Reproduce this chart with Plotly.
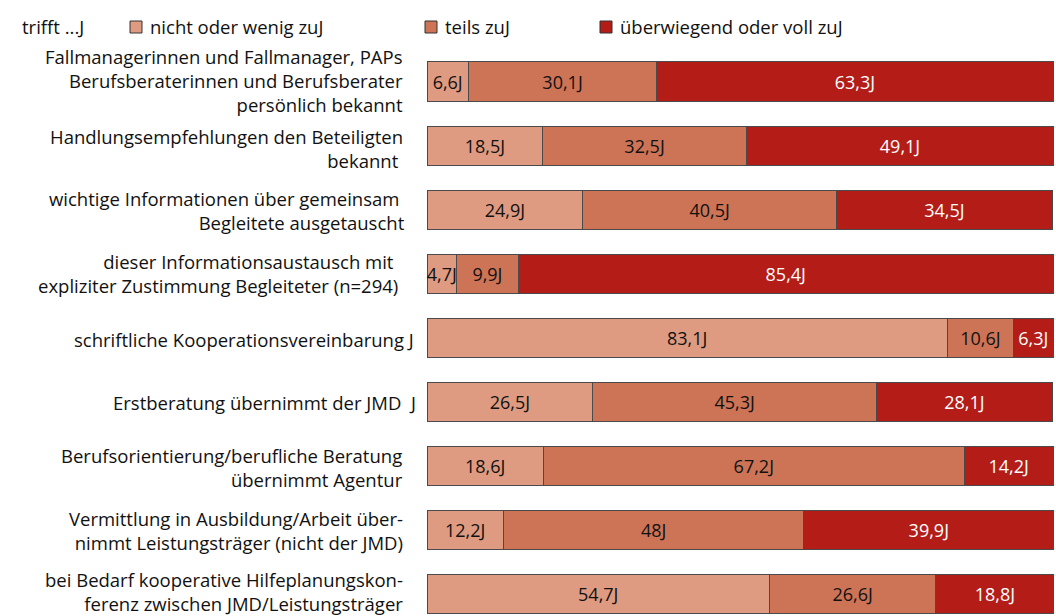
import plotly.graph_objects as go

categories = [
    "Fallmanagerinnen und Fallmanager, PAPs<br>Berufsberaterinnen und Berufsberater<br>persönlich bekannt",
    "Handlungsempfehlungen den Beteiligten<br>bekannt ",
    "wichtige Informationen über gemeinsam <br>Begleitete ausgetauscht",
    "dieser Informationsaustausch mit <br>expliziter Zustimmung Begleiteter (n=294)",
    "schriftliche Kooperationsvereinbarung J",
    "Erstberatung übernimmt der JMD  J",
    "Berufsorientierung/berufliche Beratung<br>übernimmt Agentur",
    "Vermittlung in Ausbildung/Arbeit über-<br>nimmt Leistungsträger (nicht der JMD)",
    "bei Bedarf kooperative Hilfeplanungskon-<br>ferenz zwischen JMD/Leistungsträger",
]
label_right_px = [405, 405, 407, 400, 416, 418, 405, 405, 405]
label_shift = [1, -3, -1, 0, -2, -1, -2, -1, 2]

series_names = ["nicht oder wenig zuJ", "teils zuJ", "überwiegend oder voll zuJ"]
nicht = [6.6, 18.5, 24.9, 4.7, 83.1, 26.5, 18.6, 12.2, 54.7]
teils = [30.1, 32.5, 40.5, 9.9, 10.6, 45.3, 67.2, 48.0, 26.6]
voll = [63.3, 49.1, 34.5, 85.4, 6.3, 28.1, 14.2, 39.9, 18.8]
legend_title = "trifft ...J"

colors = ["#DF9B81", "#CD7457", "#B31C17"]
text_colors = ["#111111", "#111111", "#FFFFFF"]

W, H = 1056, 616
ML, MR, MT, MB = 427, 2, 50, 0
plot_w = W - ML - MR
plot_h = H - MT - MB

FONT = "Open Sans"

def fmt(v):
    return f"{v:g}".replace(".", ",") + "J"

ypos = list(range(len(categories)))
fig = go.Figure()
for name, vals, col, tcol in zip(series_names, [nicht, teils, voll], colors, text_colors):
    fig.add_trace(go.Bar(
        y=ypos, x=vals, orientation="h", name=name,
        marker=dict(color=col, line=dict(color="#4a4a4a", width=1)),
        width=0.61,
        text=[fmt(v) for v in vals],
        textposition="inside", insidetextanchor="middle", textangle=0,
        textfont=dict(family=FONT, size=18, color=tcol),
        constraintext="none",
        cliponaxis=False,
        showlegend=False,
    ))

# category labels
for i, (cat, rpx, sh) in enumerate(zip(categories, label_right_px, label_shift)):
    fig.add_annotation(
        x=(rpx - ML) / plot_w, xref="paper", xanchor="right",
        y=i, yref="y", yanchor="middle", yshift=sh,
        text=cat, showarrow=False, align="right",
        font=dict(family=FONT, size=18.5, color="#111111"),
    )

# manual legend
def py2paper(py):
    return 1 + (MT - py) / plot_h

def px2paper(px):
    return (px - ML) / plot_w

legend_y = 27
fig.add_annotation(x=px2paper(20), xref="paper", xanchor="left",
                   y=py2paper(legend_y), yref="paper", yanchor="middle",
                   text=legend_title, showarrow=False,
                   font=dict(family=FONT, size=18.5, color="#111111"))
for name, col, sx in zip(series_names, colors, [130, 425, 600]):
    fig.add_shape(type="rect", xref="paper", yref="paper",
                  x0=px2paper(sx), x1=px2paper(sx + 12),
                  y0=py2paper(legend_y + 6), y1=py2paper(legend_y - 6),
                  fillcolor=col, line=dict(color="#333333", width=1))
    fig.add_annotation(x=px2paper(sx + 18), xref="paper", xanchor="left",
                       y=py2paper(legend_y), yref="paper", yanchor="middle",
                       text=name, showarrow=False,
                       font=dict(family=FONT, size=18.5, color="#111111"))

scale = 64.06
r0 = -31.5 / scale
r1 = r0 + plot_h / scale
fig.update_layout(
    width=W, height=H,
    barmode="stack",
    margin=dict(l=ML, r=MR, t=MT, b=MB),
    plot_bgcolor="white", paper_bgcolor="white",
    uniformtext=dict(minsize=18, mode="show"),
    xaxis=dict(range=[0, 100.15], visible=False, fixedrange=True),
    yaxis=dict(range=[r1, r0], visible=False, fixedrange=True),
    font=dict(family=FONT),
)

fig.write_html(
    "out.html",
    config={"displayModeBar": False},
    post_script="document.body.style.margin='0';document.body.style.overflow='hidden';",
)
